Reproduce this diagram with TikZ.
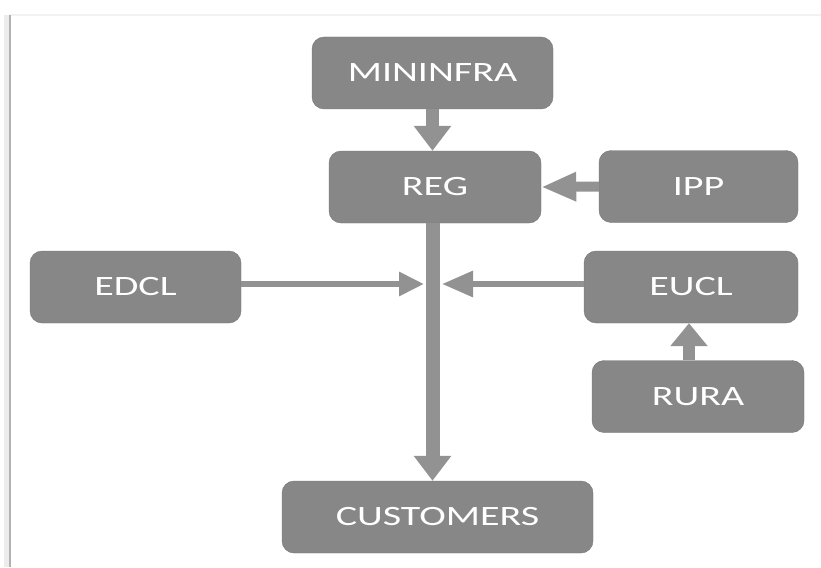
\documentclass[tikz,border=0pt]{standalone}
\usepackage{fontspec}
\setmainfont[FakeStretch=1.43]{Carlito}
\usetikzlibrary{arrows.meta}

\definecolor{boxgray}{RGB}{135,135,135}
\definecolor{edgegray}{RGB}{118,118,118}
\definecolor{arrgray}{RGB}{146,146,146}

\tikzset{
  unit/.style={draw=edgegray, fill=boxgray, rounded corners=12pt, text=white,
    minimum height=72pt, font=\fontsize{28}{32}\selectfont},
  fat/.style={arrgray, line width=13pt, -{Triangle[width=36pt,length=25pt]}},
  slim/.style={arrgray, line width=6pt, -{Triangle[width=24pt,length=27pt]}}
}

\begin{document}
\begin{tikzpicture}[x=1pt, y=-1pt]

\useasboundingbox (0,0) rectangle (821,567);

% frame
\draw[gray!10, line width=2pt] (10,15)--(821,15);
\draw[gray!15, line width=5pt] (6,15)--(6,567);
\draw[gray!60, line width=2pt] (10,15)--(10,567);

\node[unit, minimum width=241pt] (mininfra) at (432.5,73) {MININFRA};
\node[unit, minimum width=212pt] (reg) at (435,187) {REG};
\node[unit, minimum width=199pt] (ipp) at (698.5,186.5) {IPP};
\node[unit, minimum width=211pt] (edcl) at (135.5,287) {EDCL};
\node[unit, minimum width=214pt] (eucl) at (691,287) {EUCL};
\node[unit, minimum width=212pt] (rura) at (698,396.5) {RURA};
\node[unit, minimum width=311pt] (customers) at (437.5,517) {CUSTOMERS};

\coordinate (jl) at (424,284);
\coordinate (jr) at (442,284);

\draw[fat] (mininfra.south) -- (mininfra.south |- reg.north);
\draw[fat, line width=14pt] ([xshift=-2.5pt]reg.south) -- ([xshift=-2.5pt]reg.south |- customers.north);
\draw[fat, line width=10pt, -{Triangle[width=27pt,length=35pt]}] (ipp.west) -- (reg.east);
\draw[slim, -{Triangle[width=23pt,length=25pt]}] (edcl.east |- jl) -- (jl);
\draw[slim, -{Triangle[width=25pt,length=31pt]}] (eucl.west |- jr) -- (jr);
\draw[fat, line width=12pt, -{Triangle[width=36pt,length=23pt]}] ([xshift=-2pt]eucl.south |- rura.north) -- ([xshift=-2pt]eucl.south);

\end{tikzpicture}
\end{document}
